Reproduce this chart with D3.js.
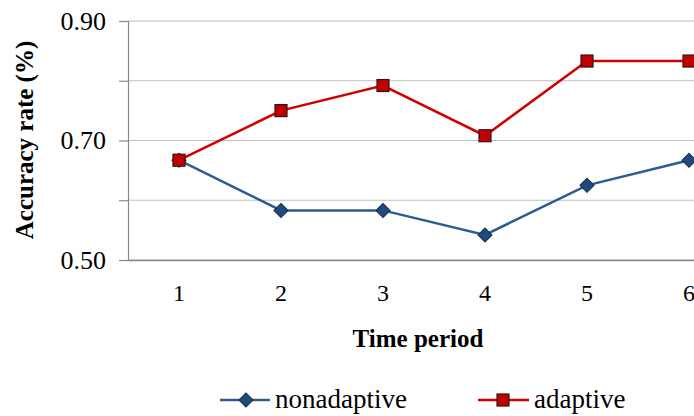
<!DOCTYPE html>
<meta charset="utf-8">
<script src="https://d3js.org/d3.v7.min.js"></script>
<style>
  body { margin: 0; background: #fff; }
  text { font-family: "Liberation Serif", "Times New Roman", serif; fill: #000; }
</style>
<svg id="chart" width="694" height="416"></svg>
<script>
// data
var periods = ["1", "2", "3", "4", "5", "6"];
var nonadaptive = [0.667, 0.583, 0.583, 0.542, 0.625, 0.667];
var adaptive = [0.667, 0.750, 0.792, 0.708, 0.833, 0.833];
var yTicks = [0.50, 0.70, 0.90];
var yGrid = [0.50, 0.60, 0.70, 0.80, 0.90];

var svg = d3.select("#chart");
var serif = "'Liberation Serif', 'Times New Roman', serif";

// plot area runs past the right edge (the picture is cropped there)
var plotLeft = 128, plotRight = 740, plotTop = 21, plotBottom = 260;

var x = d3.scaleBand().domain(periods).range([plotLeft, plotRight]);
var y = d3.scaleLinear().domain([0.5, 0.9]).range([plotBottom, plotTop]);

// gridlines
svg.append("g")
  .selectAll("line")
  .data(yGrid)
  .enter().append("line")
    .attr("x1", plotLeft).attr("x2", plotRight)
    .attr("y1", d => y(d)).attr("y2", d => y(d))
    .attr("stroke", "#c0c0c0")
    .attr("stroke-width", 1.2);

// y axis
var yAxis = svg.append("g")
  .attr("transform", "translate(" + plotLeft + ",0)")
  .call(d3.axisLeft(y).tickValues(yGrid).tickSize(9).tickFormat(d => yTicks.some(t => Math.abs(t - d) < 1e-9) ? d3.format(".2f")(d) : ""));
yAxis.select(".domain").attr("stroke", "#888").attr("stroke-width", 1.2);
yAxis.selectAll(".tick line").attr("stroke", "#888").attr("stroke-width", 1.2);
yAxis.selectAll(".tick text")
  .attr("x", -22)
  .style("font-family", serif)
  .style("font-size", "26px");

// x axis
var xAxis = svg.append("g")
  .attr("transform", "translate(0," + plotBottom + ")")
  .call(d3.axisBottom(x).tickSize(0).tickPadding(24));
xAxis.select(".domain").attr("stroke", "#888").attr("stroke-width", 1.5);
xAxis.selectAll(".tick text")
  .style("font-family", serif)
  .style("font-size", "24px");

// axis titles
svg.append("text")
  .attr("transform", "translate(33,140) rotate(-90)")
  .attr("text-anchor", "middle")
  .style("font-family", serif)
  .style("font-size", "25px")
  .style("font-weight", "bold")
  .text("Accuracy rate (%)");

svg.append("text")
  .attr("x", 418).attr("y", 347)
  .attr("text-anchor", "middle")
  .style("font-family", serif)
  .style("font-size", "25px")
  .style("font-weight", "bold")
  .text("Time period");

var cx = d => x(d) + x.bandwidth() / 2;
var line = d3.line().x((d, i) => cx(periods[i])).y(d => y(d));

var blue = "#2c5c94", blueFill = "#1f4a7c";
var red = "#d00000", redFill = "#c00000";

// nonadaptive series
svg.append("path")
  .datum(nonadaptive)
  .attr("fill", "none")
  .attr("stroke", blue)
  .attr("stroke-width", 2.5)
  .attr("d", line);

var diamond = d3.symbol().type(d3.symbolSquare).size(100);
svg.append("g")
  .selectAll("path")
  .data(nonadaptive)
  .enter().append("path")
    .attr("d", diamond)
    .attr("transform", (d, i) => "translate(" + cx(periods[i]) + "," + y(d) + ") rotate(45)")
    .attr("fill", blueFill)
    .attr("stroke", "#1a2f4a")
    .attr("stroke-width", 1);

// adaptive series
svg.append("path")
  .datum(adaptive)
  .attr("fill", "none")
  .attr("stroke", red)
  .attr("stroke-width", 2.5)
  .attr("d", line);

svg.append("g")
  .selectAll("rect")
  .data(adaptive)
  .enter().append("rect")
    .attr("x", (d, i) => cx(periods[i]) - 6)
    .attr("y", d => y(d) - 6)
    .attr("width", 12).attr("height", 12)
    .attr("fill", redFill)
    .attr("stroke", "#3a1010")
    .attr("stroke-width", 1.2);

// legend
var legend = svg.append("g");
var ly = 400;

legend.append("line")
  .attr("x1", 220).attr("x2", 270).attr("y1", ly).attr("y2", ly)
  .attr("stroke", blue).attr("stroke-width", 2.5);
legend.append("path")
  .attr("d", diamond)
  .attr("transform", "translate(246," + ly + ") rotate(45)")
  .attr("fill", blueFill).attr("stroke", "#1a2f4a");
legend.append("text")
  .attr("x", 275).attr("y", ly + 8)
  .style("font-family", serif)
  .style("font-size", "27px")
  .text("nonadaptive");

legend.append("line")
  .attr("x1", 478).attr("x2", 529).attr("y1", ly).attr("y2", ly)
  .attr("stroke", red).attr("stroke-width", 2.5);
legend.append("rect")
  .attr("x", 497).attr("y", ly - 6).attr("width", 12).attr("height", 12)
  .attr("fill", redFill).attr("stroke", "#3a1010").attr("stroke-width", 1.2);
legend.append("text")
  .attr("x", 534).attr("y", ly + 8)
  .style("font-family", serif)
  .style("font-size", "27px")
  .text("adaptive");
</script>
